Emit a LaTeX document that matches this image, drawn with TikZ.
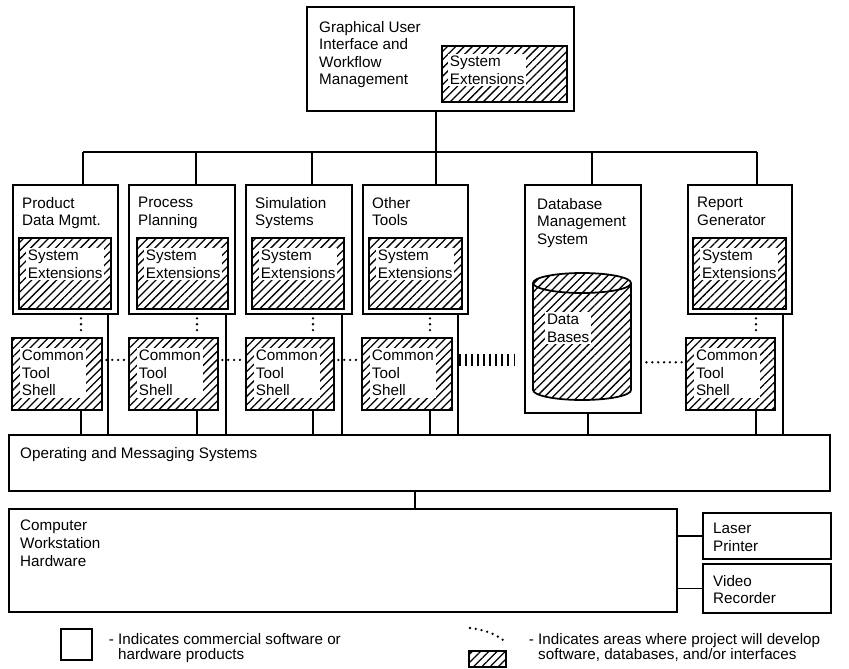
\documentclass[tikz,border=0pt]{standalone}
\usepackage{fontspec}
\setmainfont{Liberation Sans}
\usetikzlibrary{positioning,fit,patterns.meta}

\begin{document}
\begin{tikzpicture}[
    x=0.03cm, y=-0.03cm,
    font=\fontsize{13}{15}\selectfont,
    box/.style={rectangle, draw, line width=1.5pt, inner sep=0pt},
    lines/.style={pattern={Lines[angle=45, distance=5pt, line width=1.1pt]}},
    hatch/.style={box, lines},
    txt/.style={anchor=north west, inner sep=0pt, align=left},
    htxt/.style={txt, fill=white, inner sep=1.5pt},
    wire/.style={line width=1.5pt},
    dots/.style={line width=2.2pt, line cap=round, dash pattern=on 0pt off 5pt},
    ticks/.style={line width=11pt, dash pattern=on 1.6pt off 3.6pt}
]
    \useasboundingbox (0,0) rectangle (849,668);

    % Top: user interface
    \node[box, fit={(307,7) (574,111)}] (gui) {};
    \node[txt] (guit) at (319,21) {Graphical User\\Interface and\\Workflow\\Management};
    \node[hatch, fit={(442,46) (567,102)}] (guise) {};
    \node[htxt] (guiset) at (448,54) {System\\Extensions};

    % Tools layer
    \node[box, fit={(13,185) (118,314)}] (pdm) {};
    \node[txt] (pdmt) at (22,197) {Product\\Data Mgmt.};
    \node[hatch, fit={(19,238) (111,309)}] (se1) {};
    \node[htxt] (se1t) at (26,248) {System\\Extensions};
    \node[hatch, fit={(12,338) (102,410)}] (cts1) {};
    \node[htxt] (cts1t) at (20,348) {Common\\Tool\\Shell};

    \node[box, fit={(129,185) (235,314)}] (pp) {};
    \node[txt] (ppt) at (138,197) {Process\\Planning};
    \node[hatch, fit={(137,238) (228,309)}] (se2) {};
    \node[htxt] (se2t) at (144,248) {System\\Extensions};
    \node[hatch, fit={(129,338) (218,410)}] (cts2) {};
    \node[htxt] (cts2t) at (137,348) {Common\\Tool\\Shell};

    \node[box, fit={(246,185) (352,314)}] (sim) {};
    \node[txt] (simt) at (255,197) {Simulation\\Systems};
    \node[hatch, fit={(252,238) (344,309)}] (se3) {};
    \node[htxt] (se3t) at (259,248) {System\\Extensions};
    \node[hatch, fit={(246,338) (334,410)}] (cts3) {};
    \node[htxt] (cts3t) at (254,348) {Common\\Tool\\Shell};

    \node[box, fit={(363,185) (468,314)}] (oth) {};
    \node[txt] (otht) at (372,197) {Other\\Tools};
    \node[hatch, fit={(369,238) (462,309)}] (se4) {};
    \node[htxt] (se4t) at (376,248) {System\\Extensions};
    \node[hatch, fit={(362,338) (452,410)}] (cts4) {};
    \node[htxt] (cts4t) at (370,348) {Common\\Tool\\Shell};

    % Database
    \node[box, fit={(525,185) (641,413)}] (db) {};
    \node[txt] (dbt) at (537,198) {Database\\Management\\System};
    \draw[line width=1.5pt, lines] (533,283) -- (533,390)
        arc[start angle=180, end angle=0, x radius=49, y radius=10] -- (631,283)
        arc[start angle=0, end angle=-180, x radius=49, y radius=10] -- cycle;
    \draw[line width=1.5pt] (533,283) arc[start angle=180, end angle=0, x radius=49, y radius=10];
    \node[htxt] (dbst) at (545,312) {Data\\Bases};

    \node[box, fit={(688,185) (792,314)}] (rep) {};
    \node[txt] (rept) at (697,197) {Report\\Generator};
    \node[hatch, fit={(693,238) (786,309)}] (se6) {};
    \node[htxt] (se6t) at (700,248) {System\\Extensions};
    \node[hatch, fit={(686,338) (775,410)}] (cts6) {};
    \node[htxt] (cts6t) at (694,348) {Common\\Tool\\Shell};

    % Base layers
    \node[box, fit={(9,435) (830,491)}] (oms) {};
    \node[txt] (omst) at (20,447) {Operating and Messaging Systems};
    \node[box, fit={(9,509) (677,612)}] (cwh) {};
    \node[txt] (cwht) at (20,520) {Computer\\Workstation\\Hardware};
    \node[box, fit={(703,513) (831,559)}] (lp) {};
    \node[txt] (lpt) at (713,523) {Laser\\Printer};
    \node[box, fit={(703,564) (831,613)}] (vr) {};
    \node[txt] (vrt) at (713,575) {Video\\Recorder};

    % Bus
    \coordinate (b1) at (83,152);
    \coordinate (b2) at (196,152);
    \coordinate (b3) at (312,152);
    \coordinate (b4) at (436,152);
    \coordinate (b5) at (592,152);
    \coordinate (b6) at (757,152);
    \draw[wire] (b1) -- (b6);
    \draw[wire] (gui.south -| b4) -- (b4);
    \draw[wire] (b1) -- (b1 |- pdm.north);
    \draw[wire] (b2) -- (b2 |- pp.north);
    \draw[wire] (b3) -- (b3 |- sim.north);
    \draw[wire] (b4) -- (b4 |- oth.north);
    \draw[wire] (b5) -- (b5 |- db.north);
    \draw[wire] (b6) -- (b6 |- rep.north);

    % Drops to operating system
    \coordinate (k1) at (81,410);
    \coordinate (k2) at (197,410);
    \coordinate (k3) at (313,410);
    \coordinate (k4) at (430,410);
    \coordinate (k6) at (756,410);
    \coordinate (d1) at (108,314);
    \coordinate (d2) at (226,314);
    \coordinate (d3) at (342,314);
    \coordinate (d4) at (458,314);
    \coordinate (d5) at (588,413);
    \coordinate (d6) at (783,314);
    \coordinate (m1) at (415,491);
    \draw[wire] (k1) -- (k1 |- oms.north);
    \draw[wire] (k2) -- (k2 |- oms.north);
    \draw[wire] (k3) -- (k3 |- oms.north);
    \draw[wire] (k4) -- (k4 |- oms.north);
    \draw[wire] (k6) -- (k6 |- oms.north);
    \draw[wire] (d1) -- (d1 |- oms.north);
    \draw[wire] (d2) -- (d2 |- oms.north);
    \draw[wire] (d3) -- (d3 |- oms.north);
    \draw[wire] (d4) -- (d4 |- oms.north);
    \draw[wire] (d5) -- (d5 |- oms.north);
    \draw[wire] (d6) -- (d6 |- oms.north);
    \draw[wire] (m1) -- (m1 |- cwh.north);
    \draw[wire] (lp.west) -- (lp.west -| cwh.east);
    \draw[wire] (vr.west) -- (vr.west -| cwh.east);

    % Development links
    \draw[dots, shorten <=3pt, shorten >=3pt] (k1 |- pdm.south) -- (k1 |- cts1.north);
    \draw[dots, shorten <=3pt, shorten >=3pt] (k2 |- pp.south) -- (k2 |- cts2.north);
    \draw[dots, shorten <=3pt, shorten >=3pt] (k3 |- sim.south) -- (k3 |- cts3.north);
    \draw[dots, shorten <=3pt, shorten >=3pt] (k4 |- oth.south) -- (k4 |- cts4.north);
    \draw[dots, shorten <=3pt, shorten >=3pt] (k6 |- rep.south) -- (k6 |- cts6.north);
    \draw[dots, shorten <=3pt, shorten >=3pt] ([yshift=12pt]cts1.east) -- ([yshift=12pt]cts2.west);
    \draw[dots, shorten <=3pt, shorten >=3pt] ([yshift=12pt]cts2.east) -- ([yshift=12pt]cts3.west);
    \draw[dots, shorten <=3pt, shorten >=3pt] ([yshift=12pt]cts3.east) -- ([yshift=12pt]cts4.west);
    \path ([yshift=12pt]cts4.east) coordinate (r4);
    \draw[ticks, shorten <=5pt, shorten >=5pt] (r4) -- (r4 -| db.west);
    \path ([yshift=10pt]cts6.west) coordinate (r6);
    \draw[dots, shorten <=3pt, shorten >=3pt] (r6) -- (r6 -| db.east);

    % Legend
    \node[box, fit={(61,629) (92,660)}] (key1) {};
    \node[txt, font=\fontsize{13}{13}\selectfont] (key1t) at (118,633) {\llap{- }Indicates commercial software or\\hardware products};
    \draw[dots] (470,628) .. controls (486,630) and (495,634) .. (503,640);
    \node[hatch, fit={(469,651) (506,667)}] (key2) {};
    \node[txt, font=\fontsize{13}{13}\selectfont] (key2t) at (538,633) {\llap{- }Indicates areas where project will develop\\software, databases, and/or interfaces};
\end{tikzpicture}
\end{document}
